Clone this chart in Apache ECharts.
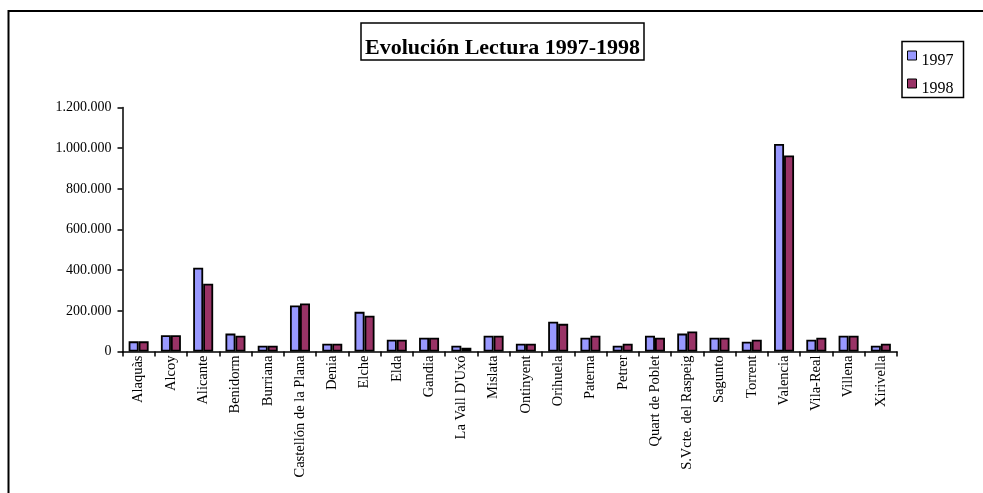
<!DOCTYPE html>
<html>
<head>
<meta charset="utf-8">
<script src="https://cdn.jsdelivr.net/npm/echarts@6/dist/echarts.min.js"></script>
<style>
html,body{margin:0;padding:0;background:#fff;}
#chart{width:983px;height:493px;}
</style>
</head>
<body>
<div id="chart"></div>
<script>
const categories = ["Alaquàs","Alcoy","Alicante","Benidorm","Burriana","Castellón de la Plana","Denia","Elche","Elda","Gandia","La Vall D'Uxó","Mislata","Ontinyent","Orihuela","Paterna","Petrer","Quart de Poblet","S.Vcte. del Raspeig","Sagunto","Torrent","Valencia","Vila-Real","Villena","Xirivella"];
const values1997 = [50000,80000,412000,88000,28000,226000,38000,195000,58000,68000,28000,78000,38000,146000,68000,28000,78000,88000,68000,48000,1021000,58000,78000,28000];
const values1998 = [50000,80000,333000,78000,28000,236000,38000,176000,58000,68000,18000,78000,38000,136000,78000,38000,68000,98000,68000,58000,964000,68000,78000,38000];
const yTicks = [0,200000,400000,600000,800000,1000000,1200000];

const FONT = "Liberation Serif";
function fmt(v){ return String(v).replace(/\B(?=(\d{3})+(?!\d))/g, "."); }

const chart = echarts.init(document.getElementById('chart'));
chart.setOption({
  animation: false,
  backgroundColor: '#fff',
  textStyle: { fontFamily: FONT, color: '#000' },
  graphic: [{
    type: 'rect', silent: true, z: -1,
    shape: { x: 8.5, y: 11, width: 1200, height: 800 },
    style: { fill: 'none', stroke: '#000', lineWidth: 2 }
  }],
  title: {
    text: 'Evolución Lectura 1997-1998',
    left: 361, top: 23,
    padding: [14, 4, 1, 4],
    borderColor: '#000', borderWidth: 1.5,
    textStyle: { fontFamily: FONT, fontSize: 22, fontWeight: 'bold', color: '#000' }
  },
  legend: {
    data: ['1997', '1998'],
    orient: 'vertical',
    left: 902, top: 41.5,
    padding: [1, 10, 1, 5],
    borderColor: '#000', borderWidth: 1.5,
    icon: 'rect',
    itemWidth: 9, itemHeight: 9, itemGap: 2,
    formatter: function(name){ return '{t|' + name + '}'; },
    textStyle: {
      fontFamily: FONT, color: '#000',
      rich: { t: { fontFamily: FONT, fontSize: 16, color: '#000', lineHeight: 16, padding: [10, 0, 0, 0] } }
    },
    itemStyle: { borderColor: '#000', borderWidth: 1 }
  },
  grid: { left: 122.5, right: 86, top: 107.5, bottom: 141.5 },
  xAxis: {
    type: 'category',
    data: categories,
    axisLine: { lineStyle: { color: '#000', width: 1.5 } },
    axisTick: { show: true, alignWithLabel: false, length: 5, lineStyle: { color: '#000', width: 1.5 } },
    axisLabel: { interval: 0, rotate: 90, color: '#000', fontFamily: FONT, fontSize: 14.5, margin: 4 }
  },
  yAxis: {
    type: 'value',
    min: 0, max: 1200000, interval: 200000,
    axisLine: { show: true, lineStyle: { color: '#000', width: 1.5 } },
    axisTick: { show: true, length: 5, lineStyle: { color: '#000', width: 1.5 } },
    splitLine: { show: false },
    axisLabel: { color: '#000', fontFamily: FONT, fontSize: 14, margin: 11, formatter: fmt,
      customValues: yTicks }
  },
  series: [
    { name: '1997', type: 'bar', data: values1997, barWidth: 10, barGap: '0%',
      itemStyle: { color: '#9999FF', borderColor: '#000', borderWidth: 1.8 } },
    { name: '1998', type: 'bar', data: values1998, barWidth: 10, barGap: '0%',
      itemStyle: { color: '#993366', borderColor: '#000', borderWidth: 1.8 } }
  ]
});
</script>
</body>
</html>
